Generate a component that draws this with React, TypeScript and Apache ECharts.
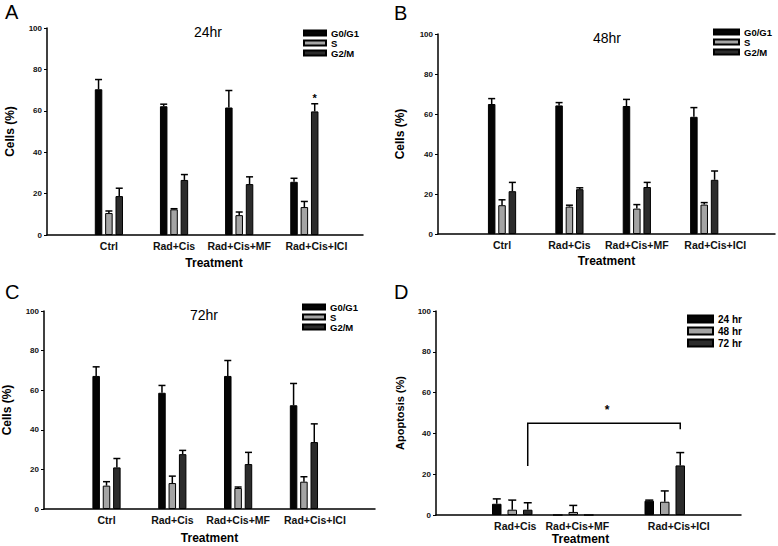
import React, { useEffect, useRef } from "react";
import * as echarts from "echarts";

// ---------- data ----------
const treatments = ["Ctrl", "Rad+Cis", "Rad+Cis+MF", "Rad+Cis+ICI"];
const phases = ["G0/G1", "S", "G2/M"];

// 24 hr
const g1_24 = [70.4, 62.2, 61.6, 25.7];
const g1_24Err = [4.7, 1.0, 8.2, 1.7];
const s_24 = [10.6, 12.4, 9.6, 13.5];
const s_24Err = [1.0, 0.3, 1.5, 2.7];
const g2_24 = [18.8, 26.6, 24.6, 59.7];
const g2_24Err = [3.8, 2.6, 3.5, 3.7];
const g2_24Sig = ["", "", "", "*"];

// 48 hr
const g1_48 = [65.0, 64.3, 64.0, 58.6];
const g1_48Err = [2.7, 1.4, 3.3, 4.6];
const s_48 = [14.4, 13.7, 12.7, 14.7];
const s_48Err = [2.7, 0.7, 2.0, 1.0];
const g2_48 = [21.4, 22.4, 23.5, 27.1];
const g2_48Err = [4.4, 0.7, 2.3, 4.4];

// 72 hr
const g1_72 = [67.2, 58.7, 67.2, 52.4];
const g1_72Err = [4.6, 3.7, 7.8, 11.0];
const s_72 = [11.8, 13.1, 10.6, 13.8];
const s_72Err = [2.0, 3.5, 0.5, 2.5];
const g2_72 = [21.0, 27.7, 22.7, 33.8];
const g2_72Err = [4.5, 1.9, 5.9, 9.2];

// apoptosis
const apopGroups = ["Rad+Cis", "Rad+Cis+MF", "Rad+Cis+ICI"];
const times = ["24 hr", "48 hr", "72 hr"];
const apop24 = [5.5, 0, 7.0];
const apop24Err = [2.4, 0, 0.3];
const apop48 = [2.6, 1.5, 6.5];
const apop48Err = [4.7, 3.2, 5.3];
const apop72 = [2.6, 0, 24.3];
const apop72Err = [3.4, 0, 6.3];
// significance bracket: from group 0 to group 2 (72 hr bars)
const bracketTop = 45;
const bracketLeftEnd = 24;
const bracketRightEnd = 42;
const bracketLabel = "*";

// ---------- layout ----------
const cellPos = [1, 2, 3, 4];
const apopPos = [1.25, 2.25, 3.75];

const FONT = "'Liberation Sans', Arial, Helvetica, sans-serif";
const FILLS = ["#050505", "#a4a4a4", "#2c2c2c"];

type Panel = {
  grid: { left: number; top: number; width: number; height: number };
  xMin: number;
  xMax: number;
  pos: number[];
  cats: string[];
  names: string[];
  values: number[][];
  errs: number[][];
  sig?: (string[] | null)[];
  barWidth: number;
  gapPct: number;
  capW: number;
  yName: string;
  yNameGap: number;
  yNameSize: number;
  xNameGap: number;
  xNamePad: number[];
  labelShift: number[];
  legend: { left: number; top: number; iw: number; ih: number; gap: number; fs: number; lh: number };
};

const panels: Panel[] = [
  {
    grid: { left: 47, top: 28, width: 316, height: 207 },
    xMin: 0.05, xMax: 4.9, pos: cellPos, cats: treatments, names: phases,
    values: [g1_24, s_24, g2_24], errs: [g1_24Err, s_24Err, g2_24Err],
    sig: [null, null, g2_24Sig],
    barWidth: 7.5, gapPct: 38, capW: 7,
    yName: "Cells (%)", yNameGap: 31, yNameSize: 12, xNameGap: 22, xNamePad: [0, 0, 0, 18],
    labelShift: [0, 0, 0, 12],
    legend: { left: 303, top: 28, iw: 22, ih: 5, gap: 0, fs: 9.5, lh: 9.5 },
  },
  {
    grid: { left: 438, top: 34, width: 337, height: 200 },
    xMin: 0.05, xMax: 5.05, pos: cellPos, cats: treatments, names: phases,
    values: [g1_48, s_48, g2_48], errs: [g1_48Err, s_48Err, g2_48Err],
    barWidth: 7.5, gapPct: 38, capW: 7,
    yName: "Cells (%)", yNameGap: 32, yNameSize: 12, xNameGap: 21, xNamePad: [0, 0, 0, 0],
    labelShift: [0, 0, 0, 11],
    legend: { left: 713, top: 27, iw: 25, ih: 5, gap: 0, fs: 9.5, lh: 9 },
  },
  {
    grid: { left: 43, top: 311, width: 332, height: 198 },
    xMin: 0.05, xMax: 5.08, pos: cellPos, cats: treatments, names: phases,
    values: [g1_72, s_72, g2_72], errs: [g1_72Err, s_72Err, g2_72Err],
    barWidth: 7.5, gapPct: 38, capW: 7,
    yName: "Cells (%)", yNameGap: 31, yNameSize: 12, xNameGap: 23, xNamePad: [0, 0, 0, 0],
    labelShift: [0, 0, 0, 11],
    legend: { left: 302, top: 302, iw: 22, ih: 5, gap: 0, fs: 9.5, lh: 9 },
  },
  {
    grid: { left: 436, top: 311, width: 305, height: 206 },
    xMin: 0, xMax: 5, pos: apopPos, cats: apopGroups, names: times,
    values: [apop24, apop48, apop72], errs: [apop24Err, apop48Err, apop72Err],
    barWidth: 9.5, gapPct: 63, capW: 8,
    yName: "Apoptosis (%)", yNameGap: 31, yNameSize: 11, xNameGap: 18, xNamePad: [0, 16, 0, 0],
    labelShift: [3, 4, 14],
    legend: { left: 687, top: 313, iw: 25, ih: 7, gap: 0, fs: 10, lh: 12 },
  },
];

function centerOffset(k: number, n: number, w: number, gapPct: number) {
  const gap = (w * gapPct) / 100;
  const total = n * w + (n - 1) * gap;
  return -total / 2 + w / 2 + k * (w + gap);
}

function buildOption() {
  const grids: any[] = [];
  const xAxes: any[] = [];
  const yAxes: any[] = [];
  const series: any[] = [];
  const legends: any[] = [];

  panels.forEach((p, idx) => {
    grids.push({ ...p.grid, containLabel: false });

    const rich: any = {};
    p.labelShift.forEach((s, i) => {
      if (s) {
        rich["s" + i] = {
          padding: [0, 0, 0, 2 * s],
          fontFamily: FONT, fontWeight: "bold", fontSize: 10.5, color: "#111",
        };
      }
    });

    xAxes.push({
      type: "value", gridIndex: idx, min: p.xMin, max: p.xMax,
      axisLine: { show: true, onZero: false, lineStyle: { color: "#000", width: 1.5 } },
      axisTick: { show: false },
      splitLine: { show: false },
      axisLabel: {
        customValues: p.pos,
        margin: 5,
        fontFamily: FONT, fontWeight: "bold", fontSize: 10.5, color: "#111",
        formatter: (v: number) => {
          const i = p.pos.findIndex((q) => Math.abs(q - v) < 1e-6);
          if (i < 0) return "";
          return p.labelShift[i] ? `{s${i}|${p.cats[i]}}` : p.cats[i];
        },
        rich,
      },
      name: "Treatment", nameLocation: "middle", nameGap: p.xNameGap,
      nameTextStyle: { fontFamily: FONT, fontWeight: "bold", fontSize: 12, color: "#000", padding: p.xNamePad },
    });

    yAxes.push({
      type: "value", gridIndex: idx, min: 0, max: 100, interval: 20,
      axisLine: { show: true, lineStyle: { color: "#000", width: 1.5 } },
      axisTick: { show: true, length: 3, lineStyle: { color: "#000", width: 1 } },
      splitLine: { show: false },
      axisLabel: { fontFamily: FONT, fontWeight: "bold", fontSize: 8, color: "#111", margin: 5 },
      name: p.yName, nameLocation: "middle", nameGap: p.yNameGap,
      nameTextStyle: { fontFamily: FONT, fontWeight: "bold", fontSize: p.yNameSize, color: "#000", padding: [0, 0, 0, 0] },
    });

    const n = p.names.length;
    p.names.forEach((nm, k) => {
      series.push({
        type: "bar", name: nm, xAxisIndex: idx, yAxisIndex: idx,
        barWidth: p.barWidth, barGap: p.gapPct + "%",
        data: p.pos.map((x, i) => [x, p.values[k][i]]),
        itemStyle: { color: FILLS[k], borderColor: "#000", borderWidth: 1 },
        emphasis: { disabled: true },
        z: 2,
      });
    });

    p.names.forEach((nm, k) => {
      const off = centerOffset(k, n, p.barWidth, p.gapPct);
      const sig = p.sig ? p.sig[k] : null;
      series.push({
        type: "custom", name: "err-" + idx + "-" + k, xAxisIndex: idx, yAxisIndex: idx,
        silent: true, z: 3, clip: false,
        data: p.pos.map((x, i) => [x, p.values[k][i], p.errs[k][i], i]),
        renderItem: (params: any, api: any) => {
          const x = api.value(0), y = api.value(1), e = api.value(2), i = api.value(3);
          const base = api.coord([x, y]);
          const top = api.coord([x, y + e]);
          const cx = base[0] + off;
          const children: any[] = [];
          if (e > 0) {
            children.push({ type: "line", shape: { x1: cx, y1: base[1], x2: cx, y2: top[1] }, style: { stroke: "#000", lineWidth: 1.5 } });
            children.push({ type: "line", shape: { x1: cx - p.capW / 2, y1: top[1], x2: cx + p.capW / 2, y2: top[1] }, style: { stroke: "#000", lineWidth: 1.5 } });
          }
          if (sig && sig[i]) {
            children.push({
              type: "text", x: cx, y: top[1] - 6,
              style: { text: sig[i], align: "center", verticalAlign: "middle", textAlign: "center", textVerticalAlign: "middle", fontFamily: FONT, fontWeight: "bold", fontSize: 11, fill: "#000" },
            });
          }
          return { type: "group", children };
        },
      });
    });

    legends.push({
      data: p.names, orient: "vertical", left: p.legend.left, top: p.legend.top,
      itemWidth: p.legend.iw, itemHeight: p.legend.ih, itemGap: p.legend.gap,
      icon: "rect", selectedMode: false, padding: 0,
      textStyle: { fontFamily: FONT, fontWeight: "bold", fontSize: p.legend.fs, lineHeight: p.legend.lh, color: "#000" },
    });
  });

  // significance bracket for panel D
  const dIdx = 3;
  const dP = panels[dIdx];
  const off72 = centerOffset(2, 3, dP.barWidth, dP.gapPct);
  series.push({
    type: "custom", name: "bracket", xAxisIndex: dIdx, yAxisIndex: dIdx, silent: true, z: 4, clip: false,
    data: [[apopPos[0], apopPos[2], bracketTop, bracketLeftEnd, bracketRightEnd]],
    renderItem: (params: any, api: any) => {
      const a = api.coord([api.value(0), api.value(2)]);
      const b = api.coord([api.value(1), api.value(2)]);
      const l = api.coord([api.value(0), api.value(3)]);
      const r = api.coord([api.value(1), api.value(4)]);
      const x1 = a[0] + off72, x2 = b[0] + off72;
      return {
        type: "group",
        children: [
          { type: "polyline", shape: { points: [[x1, l[1]], [x1, a[1]], [x2, b[1]], [x2, r[1]]] }, style: { stroke: "#000", lineWidth: 1.5, fill: "none" } },
          { type: "text", x: (x1 + x2) / 2 + 3, y: a[1] - 13, style: { text: bracketLabel, align: "center", verticalAlign: "middle", textAlign: "center", textVerticalAlign: "middle", fontFamily: FONT, fontWeight: "bold", fontSize: 12, fill: "#000" } },
        ],
      };
    },
  });

  const letter = (t: string, x: number, y: number) => ({
    type: "text", x, y,
    style: { text: t, fontFamily: FONT, fontSize: 20, fill: "#000", align: "left", verticalAlign: "top", textAlign: "left", textVerticalAlign: "top" },
  });
  const title = (t: string, x: number, y: number) => ({
    type: "text", x, y,
    style: { text: t, fontFamily: FONT, fontSize: 14, fill: "#000", align: "center", verticalAlign: "middle", textAlign: "center", textVerticalAlign: "middle" },
  });

  return {
    animation: false,
    backgroundColor: "#fff",
    grid: grids,
    xAxis: xAxes,
    yAxis: yAxes,
    legend: legends,
    series,
    graphic: [
      letter("A", 5, 2),
      letter("B", 394, 3),
      letter("C", 5, 282),
      letter("D", 394, 282),
      title("24hr", 208, 32),
      title("48hr", 607, 38),
      title("72hr", 204, 315),
    ],
  };
}

export default function App() {
  const ref = useRef<HTMLDivElement>(null);
  useEffect(() => {
    if (!ref.current) return;
    const chart = echarts.init(ref.current, undefined, { renderer: "svg" });
    chart.setOption(buildOption() as any);
    return () => chart.dispose();
  }, []);
  return (
    <div
      ref={ref}
      style={{ position: "fixed", left: 0, top: 0, width: 778, height: 546, background: "#fff" }}
    />
  );
}
